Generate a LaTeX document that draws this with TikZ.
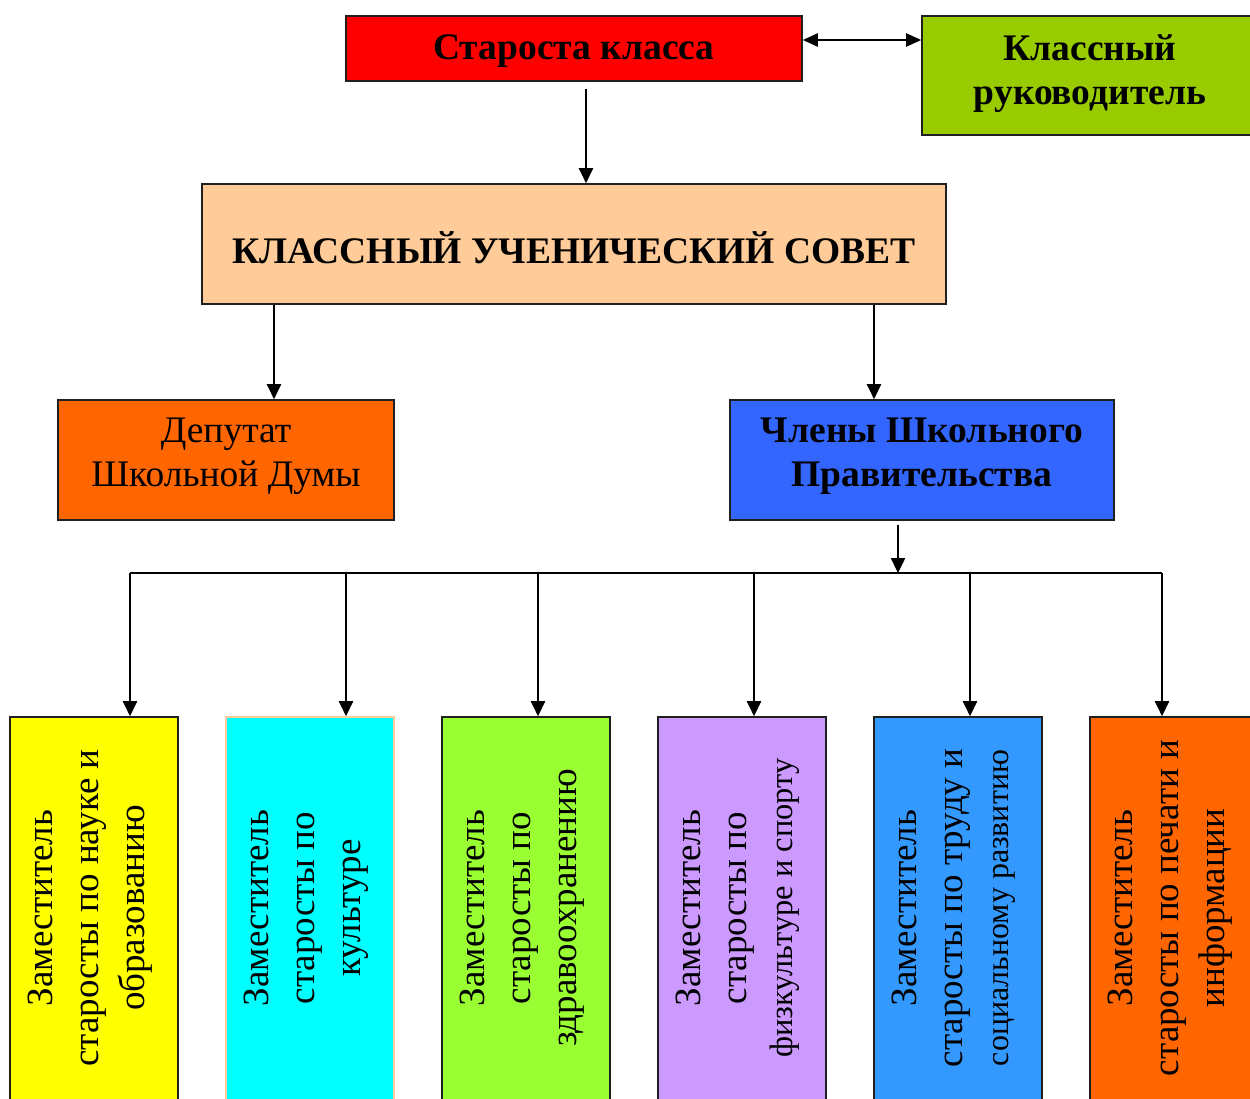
\documentclass[tikz,border=0pt]{standalone}
\usepackage{fontspec}
\setmainfont{Liberation Serif}
\usetikzlibrary{arrows.meta,calc}
\definecolor{cRed}{HTML}{FF0000}
\definecolor{cLime}{HTML}{99CC00}
\definecolor{cPeach}{HTML}{FFCC99}
\definecolor{cOrange}{HTML}{FF6600}
\definecolor{cBlue}{HTML}{3366FF}
\definecolor{cYellow}{HTML}{FFFF00}
\definecolor{cCyan}{HTML}{00FFFF}
\definecolor{cGreen}{HTML}{99FF33}
\definecolor{cViolet}{HTML}{CC99FF}
\definecolor{cSky}{HTML}{3399FF}
\definecolor{cEdge}{HTML}{202020}
\begin{document}
\begin{tikzpicture}[x=1pt,y=-1pt,
  box/.style={draw=cEdge,line width=1.6pt,inner sep=0pt,rectangle},
  arr/.style={line width=2.4pt,-{Triangle[length=15pt,width=14pt]}},
  darr/.style={line width=2.2pt,{Triangle[length=15pt,width=13pt]}-{Triangle[length=15pt,width=13pt]}},
  bline/.style={line width=1.7pt},
  big/.style={font=\fontsize{37.5}{44}\selectfont\bfseries,align=center},
  mid/.style={font=\fontsize{37.5}{44}\selectfont,align=center},
  vbox/.style={box,minimum width=168pt,minimum height=400pt},
  vtext/.style={rotate=90,align=center,font=\fontsize{37}{46}\selectfont},
  smallln/.style={}
]
\useasboundingbox (0,0) rectangle (1250,1098);

% top row
\node[box,fill=cRed,minimum width=456pt,minimum height=65pt] (st) at (574,48.5) {};
\node[big] (stt) at (574,51) {Староста класса};
\node[box,fill=cLime,minimum width=330pt,minimum height=119pt] (kr) at (1087,75.5) {};
\node[big] (krt) at (1090,74) {Классный\\руководитель};
\coordinate (ydbl) at (0,40);
\draw[darr] (st.east |- ydbl) -- (kr.west |- ydbl);

% council
\node[box,fill=cPeach,minimum width=744pt,minimum height=120pt] (sov) at (574,244) {};
\node[big] (sovt) at (574,248) {КЛАССНЫЙ УЧЕНИЧЕСКИЙ СОВЕТ};
\draw[arr] ([xshift=12pt,yshift=-7pt]st.south) -- ([xshift=12pt]sov.north);

% second level
\node[box,fill=cOrange,minimum width=336pt,minimum height=120pt] (dep) at (226,460) {};
\node[mid] (dept) at (226,456) {Депутат\\Школьной Думы};
\node[box,fill=cBlue,minimum width=384pt,minimum height=120pt] (chl) at (922,460) {};
\node[big] (chlt) at (922,456) {Члены Школьного\\Правительства};
\draw[arr] (sov.south -| dep.north) ++(48,0) coordinate (a1) -- (a1 |- dep.north);
\draw[arr] (sov.south -| chl.north) ++(-48,0) coordinate (a2) -- (a2 |- chl.north);

% bus
\coordinate (bus) at (898,573);
\draw[arr] ([xshift=-24pt,yshift=-4pt]chl.south) -- (bus);
\coordinate (b1) at (130,573);
\coordinate (b2) at (346,573);
\coordinate (b3) at (538,573);
\coordinate (b4) at (754,573);
\coordinate (b5) at (970,573);
\coordinate (b6) at (1162,573);
\draw[bline] (b1) -- (b6);

% bottom boxes
\node[vbox,fill=cYellow] (z1) at (94,917) {};
\node[vbox,fill=cCyan,draw=cPeach] (z2) at (310,917) {};
\node[vbox,fill=cGreen] (z3) at (526,917) {};
\node[vbox,fill=cViolet] (z4) at (742,917) {};
\node[vbox,fill=cSky] (z5) at (958,917) {};
\node[vbox,fill=cOrange] (z6) at (1174,917) {};

\foreach \i in {1,...,6}{\draw[arr] (b\i) -- (b\i |- z\i.north);}

\node[vtext] (t1) at (90,908) {Заместитель\\старосты по науке и\\образованию};
\node[vtext] (t2) at (306,908) {Заместитель\\старосты по\\культуре};
\node[vtext] (t3) at (522,908) {Заместитель\\старосты по\\здравоохранению};
\node[vtext] (t4) at (738,908) {Заместитель\\старосты по\\{\fontsize{32.5}{38}\selectfont физкультуре и спорту}};
\node[vtext] (t5) at (954,908) {Заместитель\\старосты по труду и\\{\fontsize{32}{38}\selectfont социальному развитию}};
\node[vtext] (t6) at (1170,908) {Заместитель\\старосты по печати и\\информации};
\end{tikzpicture}
\end{document}
